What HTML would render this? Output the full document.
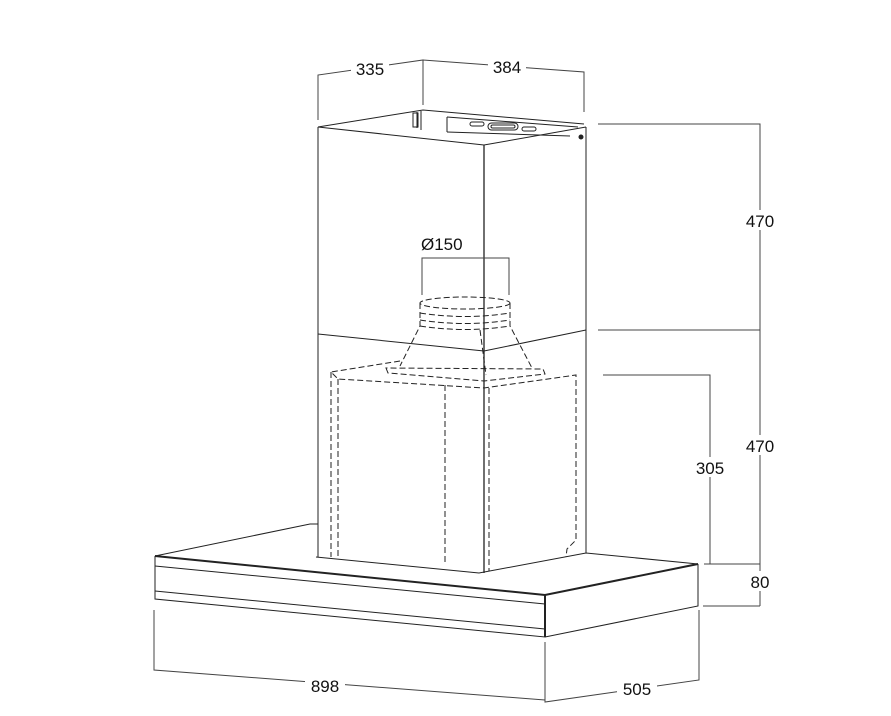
<!DOCTYPE html>
<html><head><meta charset="utf-8"><style>
html,body{margin:0;padding:0;background:#fff;}
svg{display:block;}
text{font-family:"Liberation Sans",sans-serif;font-size:17px;fill:#111;}
</style></head><body>
<svg width="891" height="716" viewBox="0 0 891 716" xmlns="http://www.w3.org/2000/svg">
<g fill="none" stroke="#222" stroke-width="1">
<path d="M318,127 L423,110 L584,124"/>
<path d="M318,127 L484,145 L586,127"/>
<path d="M318,127 V557"/>
<path d="M484,145 V573" stroke-width="1.3"/>
<path d="M586,127 V553"/>
<path d="M318,334 L484,351 L586,330"/>
<path d="M417,112 V128 M421,111 V130 M447,117 V132"/>
<rect x="413" y="113" width="5" height="14"/>
<path d="M447,117 L578,127 M447,132 L570,136"/>
<rect x="470" y="122" width="14" height="4" rx="2"/>
<rect x="488" y="123" width="30" height="7" rx="3.5"/>
<rect x="491" y="125" width="24" height="3" rx="1.5"/>
<rect x="522" y="127" width="14" height="4" rx="2"/>
<circle cx="581" cy="137" r="2" fill="#222"/>
<path d="M155,556 L310,524 L318,524"/>
<path d="M316,557 L479,573 L586,553 L698,564"/>
<path d="M155,556 L545,595 L698,564" stroke-width="2"/>
<path d="M155,556 V599 L545,637 V595" />
<path d="M545,595 V637" stroke-width="2"/>
<path d="M155,566 L545,604 M155,591 L545,629"/>
<path d="M698,564 V606 L545,637"/>
<g stroke-dasharray="6,3">
<ellipse cx="465" cy="303" rx="45" ry="6"/>
<path d="M420,313 Q465,320 510,313 M420,320 Q465,327 510,320 M420,326 Q465,333 510,326"/>
<path d="M420,303 V326 L400,366 M510,303 V326 L532,368"/>
<path d="M386,368 L388,373 L484,381 L545,374 L543,369 Z"/>
<path d="M480,330 L486,375"/>
<path d="M400,361 L331,372 L338,379 L484,388 L576,375 L576,540 L567,549 L566,557"/>
<path d="M331,372 V557 M338,379 V557 M445,385 V562 M489,388 V571"/>
</g>
</g>
<g fill="none" stroke="#444" stroke-width="1">
<path d="M318,120 V75 L423,60 V105 M423,60 L584,72 V112"/>
<path d="M598,124 H760 V606 M598,330 H760 M603,375 H710 V564 M704,564 H760 M703,606 H760"/>
<path d="M422,295 V258 H509 V295"/>
<path d="M154,610 V670 L545,700 M545,642 V702 L699,680 V610"/>
</g>
<g>
<rect x="351" y="58" width="38" height="19" fill="#fff"/>
<text x="370" y="75" text-anchor="middle">335</text>
<rect x="488" y="56" width="38" height="19" fill="#fff"/>
<text x="507" y="73" text-anchor="middle">384</text>
<rect x="740" y="210" width="40" height="20" fill="#fff"/>
<text x="760" y="227" text-anchor="middle">470</text>
<rect x="740" y="435" width="40" height="20" fill="#fff"/>
<text x="760" y="452" text-anchor="middle">470</text>
<rect x="691" y="457" width="38" height="20" fill="#fff"/>
<text x="710" y="474" text-anchor="middle">305</text>
<rect x="747" y="571" width="28" height="20" fill="#fff"/>
<text x="760" y="588" text-anchor="middle">80</text>
<rect x="305" y="676" width="40" height="20" fill="#fff"/>
<text x="325" y="692" text-anchor="middle">898</text>
<rect x="617" y="679" width="40" height="20" fill="#fff"/>
<text x="637" y="695" text-anchor="middle">505</text>
<text x="421" y="250">Ø150</text>
</g>
</svg>
</body></html>
